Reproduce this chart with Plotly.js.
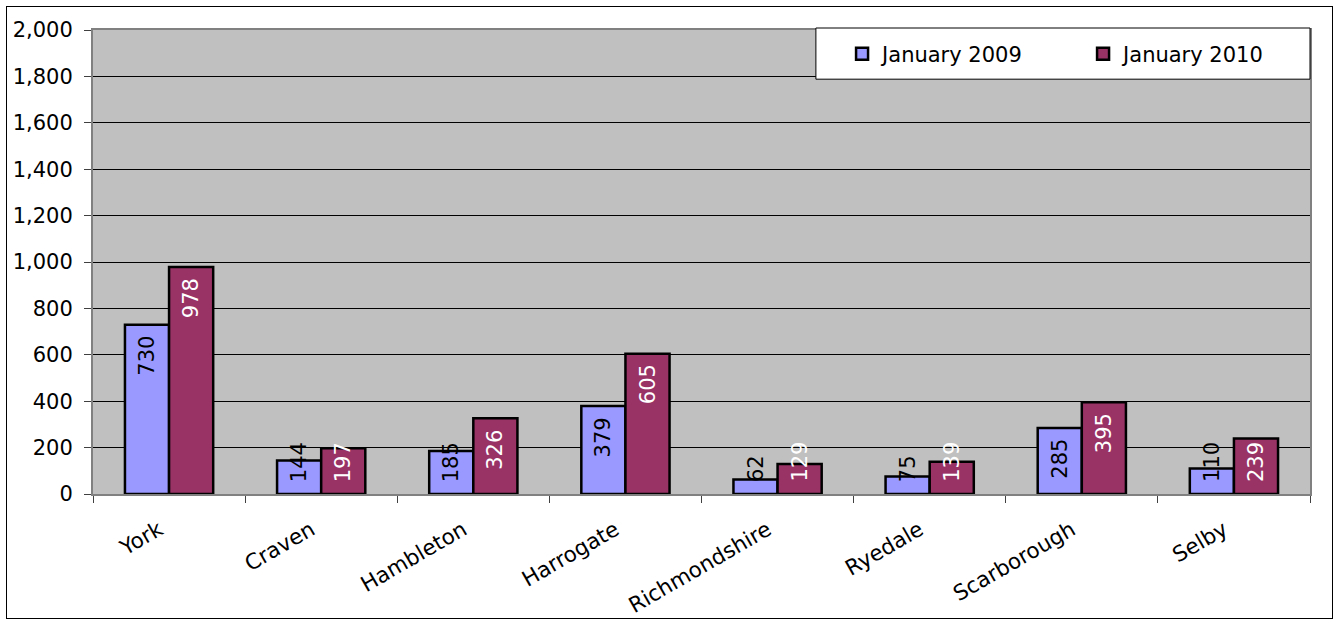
<!DOCTYPE html>
<html>
<head>
<meta charset="utf-8">
<script src="https://cdn.plot.ly/plotly-3.0.1.min.js"></script>
<style>
  html, body { margin: 0; padding: 0; background: #ffffff; }
  #frame { position: absolute; left: 6px; top: 6px; width: 1325px; height: 611px; border: 1px solid #000000; }
  #chart { width: 1325px; height: 611px; }
</style>
</head>
<body>
<div id="frame"><div id="chart"></div></div>
<script>
// ---- data ----
var districts = ["York", "Craven", "Hambleton", "Harrogate", "Richmondshire", "Ryedale", "Scarborough", "Selby"];
var jan2009 = [730, 144, 185, 379, 62, 75, 285, 110];
var jan2010 = [978, 197, 326, 605, 129, 139, 395, 239];
var seriesNames = ["January 2009", "January 2010"];
var yTickValues = [0, 200, 400, 600, 800, 1000, 1200, 1400, 1600, 1800, 2000];

// ---- styling ----
var FONT = "DejaVu Sans, Verdana, sans-serif";
var FS = 21;
var colors = ["#9999FF", "#993366"];
var labelColors = ["#000000", "#ffffff"];
var margin = {l: 86, r: 22, t: 23, b: 124, autoexpand: false};
var plotH = 611 - margin.t - margin.b;
var yMax = 2000;
var bargap = 0.42;

var traces = [jan2009, jan2010].map(function (vals, s) {
  return {
    type: "bar",
    name: seriesNames[s],
    x: districts,
    y: vals,
    marker: { color: colors[s], line: { color: "#000000", width: 2.5 } },
    hoverinfo: "skip"
  };
});

// value labels (rotated, inside end, clamped to the base for short bars)
var annotations = [];
[jan2009, jan2010].forEach(function (vals, s) {
  var off = (s === 0 ? -1 : 1) * (1 - bargap) / 4;
  vals.forEach(function (v, i) {
    var txt = String(v);
    var textLen = txt.length * 0.636 * FS;
    var barPx = v / yMax * plotH;
    var fitsTop = (barPx - 9 - textLen) >= 10;
    annotations.push({
      x: i + off, y: fitsTop ? v : 0, xref: "x", yref: "y",
      text: txt, showarrow: false, textangle: -90,
      xanchor: "center", yanchor: fitsTop ? "top" : "bottom",
      yshift: fitsTop ? -9 : 10,
      font: { family: FONT, size: FS, color: labelColors[s] }
    });
  });
});

var layout = {
  width: 1325, height: 611,
  margin: margin,
  paper_bgcolor: "#ffffff",
  plot_bgcolor: "#C0C0C0",
  font: { family: FONT, size: FS, color: "#000000" },
  barmode: "group",
  bargap: bargap,
  bargroupgap: 0,
  showlegend: true,
  legend: {
    orientation: "h", x: 0.6155, xanchor: "left", y: 0.948, yanchor: "middle",
    bgcolor: "rgba(0,0,0,0)", borderwidth: 0,
    font: { family: FONT, size: FS, color: "#000000" },
    entrywidth: 196, itemwidth: 30
  },
  shapes: [{
    type: "rect", xref: "paper", yref: "paper", layer: "above",
    x0: 0.594, x1: 1.0, y0: 0.894, y1: 1.0043,
    fillcolor: "#ffffff", line: { color: "#000000", width: 1 }
  }],
  xaxis: {
    type: "category",
    tickangle: -30,
    tickson: "boundaries",
    ticks: "outside", ticklen: 7, tickcolor: "#404040", tickwidth: 1,
    showline: true, linecolor: "#808080", linewidth: 2, mirror: true,
    showgrid: false, zeroline: false,
    tickfont: { family: FONT, size: 21.5, color: "#000000" },
    ticklabelstandoff: 13,
    ticklabelshift: -10
  },
  yaxis: {
    range: [0, yMax],
    tickvals: yTickValues,
    tickformat: ",d",
    ticks: "outside", ticklen: 7, tickcolor: "#404040", tickwidth: 1,
    showline: true, linecolor: "#808080", linewidth: 2, mirror: true,
    showgrid: true, gridcolor: "#000000", gridwidth: 1,
    zeroline: false,
    tickfont: { family: FONT, size: FS, color: "#000000" },
    ticklabelstandoff: 7
  },
  annotations: annotations
};

Plotly.newPlot("chart", traces, layout, { staticPlot: true, displayModeBar: false });
</script>
</body>
</html>
